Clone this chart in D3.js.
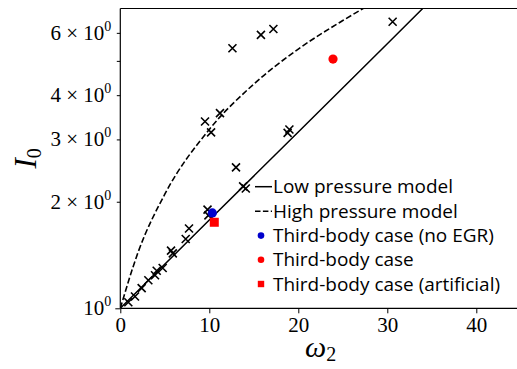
<!DOCTYPE html>
<html><head><meta charset="utf-8">
<script src="https://cdn.jsdelivr.net/npm/d3@7"></script>
<style>body{margin:0;background:#fff}svg{display:block}</style>
</head><body>
<svg id="c" width="517" height="369"></svg>
<script>
// Data
const crossW = [0.9,1.65,2.4,3.15,3.9,4.09,4.76,5.7,5.9,7.35,7.72,9.8,9.9,13.8,14.1,19.0,18.8,13.0,10.2,9.52,11.2,12.6,15.8,17.2,30.6];
const crossI = [1.04,1.08,1.14,1.20,1.24,1.277,1.30,1.455,1.43,1.57,1.68,1.90,1.83,2.21,2.18,3.20,3.13,2.50,3.14,3.37,3.56,5.43,5.92,6.15,6.45];
const noEgrW = [10.34], noEgrI = [1.86];
const tbW = [23.9], tbI = [5.06];
const artW = [10.56], artI = [1.75];
const lowW = [0,10,20,30,36], lowI = [1,1.775,3.15,5.59,7.9];
const highW = [0,2,5,10,15,20,25,28], highI = [1,1.44,2.1,3.2,4.3,5.4,6.5,7.2];
const xTicks = [0,10,20,30,40];
const yTicks = [1,2,3,4,5,6];
const yTickLabels = ["10","2 × 10","3 × 10","4 × 10","","6 × 10"];
const legendLabels = ["Low pressure model","High pressure model","Third-body case (no EGR)","Third-body case","Third-body case (artificial)"];

const svg = d3.select("#c");
const L=120.3, R=520.8, T=8.5, B=308.3;
const x = d3.scaleLinear().domain([0,45]).range([L,R]);
const y = d3.scaleLog().domain([1,7.03]).range([B,T]);
const serif = "'Liberation Serif','DejaVu Serif',serif";

svg.append("clipPath").attr("id","clip").append("rect").attr("x",L).attr("y",T).attr("width",R-L).attr("height",B-T);
const g = svg.append("g").attr("clip-path","url(#clip)");

const line = d3.line().x(d=>x(d[0])).y(d=>y(d[1]));
g.append("path").datum(lowW.map((w,i)=>[w,lowI[i]])).attr("d",line)
  .attr("fill","none").attr("stroke","#000").attr("stroke-width",1.5);
g.append("path").datum(highW.map((w,i)=>[w,highI[i]])).attr("d",line.curve(d3.curveMonotoneX))
  .attr("fill","none").attr("stroke","#000").attr("stroke-width",1.6).attr("stroke-dasharray","6,2.6");

const cs=4;
crossW.forEach((w,i)=>{
  const cx=x(w), cy=y(crossI[i]);
  g.append("path").attr("d",`M${cx-cs},${cy-cs}L${cx+cs},${cy+cs}M${cx-cs},${cy+cs}L${cx+cs},${cy-cs}`)
   .attr("stroke","#000").attr("stroke-width",1.6);
});
noEgrW.forEach((w,i)=>g.append("circle").attr("cx",x(w)).attr("cy",y(noEgrI[i])).attr("r",4.6).attr("fill","#0000cc"));
tbW.forEach((w,i)=>g.append("circle").attr("cx",x(w)).attr("cy",y(tbI[i])).attr("r",4.6).attr("fill","#ff0000"));
artW.forEach((w,i)=>g.append("rect").attr("x",x(w)-4.5).attr("y",y(artI[i])-4.5).attr("width",9).attr("height",9).attr("fill","#ff0000"));

// spines
svg.append("line").attr("x1",L).attr("x2",L).attr("y1",T).attr("y2",B).attr("stroke","#000").attr("stroke-width",1.2);
svg.append("line").attr("x1",L).attr("x2",R).attr("y1",B).attr("y2",B).attr("stroke","#000").attr("stroke-width",1.2);
svg.append("line").attr("x1",L).attr("x2",R).attr("y1",T).attr("y2",T).attr("stroke","#000").attr("stroke-width",1.2);

// x axis
const xa = svg.append("g").attr("transform",`translate(0,${B})`)
  .call(d3.axisBottom(x).tickValues(xTicks).tickSize(5).tickPadding(4).tickFormat(d3.format("d")));
xa.select(".domain").remove();
xa.selectAll("text").attr("font-family",serif).attr("font-size",21).attr("fill","#000");
xa.selectAll("line").attr("stroke-width",1);

// y axis
const ya = svg.append("g").attr("transform",`translate(${L},0)`)
  .call(d3.axisLeft(y).tickValues(yTicks).tickSize(4).tickPadding(4).tickFormat(()=>""));
ya.select(".domain").remove();
ya.selectAll(".tick line").attr("stroke-width",1).attr("x2",d=>d===1?-5:-3.5);
yTicks.forEach((v,i)=>{
  if(!yTickLabels[i]) return;
  const t = svg.append("text").attr("x",L-9).attr("y",y(v)+7).attr("text-anchor","end")
    .attr("font-family",serif).attr("font-size",21).attr("fill","#000");
  t.append("tspan").text(yTickLabels[i]);
  t.append("tspan").attr("font-size",14).attr("dy",-9).text("0");
});

// axis labels
const xl = svg.append("text").attr("x",(L+x(45))/2).attr("y",357).attr("text-anchor","middle")
  .attr("font-family",serif).attr("font-size",30).attr("font-style","italic");
xl.append("tspan").text("ω");
xl.append("tspan").attr("font-size",20).attr("font-style","normal").attr("dy",4).text("2");
const yl = svg.append("text").attr("transform",`translate(36,${(T+B)/2}) rotate(-90)`).attr("text-anchor","middle")
  .attr("font-family",serif).attr("font-size",31).attr("font-style","italic");
yl.append("tspan").text("I");
yl.append("tspan").attr("font-size",20).attr("font-style","normal").attr("dy",5).text("0");

// legend
const lg = svg.append("g");
const rowY = [186.7,211.2,235.6,259.8,284.0];
const sans = "'Open Sans','DejaVu Sans',sans-serif";
const tx = 273;
const targetW = [170,176,233,141,234];
legendLabels.forEach((lab,i)=>{
  lg.append("text").attr("x",tx).attr("y",rowY[i]+6.5).attr("font-family",sans).attr("font-size",19).attr("fill","#000").text(lab).attr("class","lt");
});
// fit legend font to overall widths seen in the reference
let sumW=0; lg.selectAll(".lt").each(function(){sumW+=this.getComputedTextLength();});
const fs = 19*d3.sum(targetW)/sumW;
lg.selectAll(".lt").attr("font-size",fs);
lg.append("line").attr("x1",255).attr("x2",272).attr("y1",rowY[0]).attr("y2",rowY[0]).attr("stroke","#000").attr("stroke-width",1.5);
lg.append("line").attr("x1",255).attr("x2",272).attr("y1",rowY[1]).attr("y2",rowY[1]).attr("stroke","#000").attr("stroke-width",1.5).attr("stroke-dasharray","5.5,2.4");
lg.append("circle").attr("cx",261).attr("cy",rowY[2]).attr("r",3.3).attr("fill","#0000cc");
lg.append("circle").attr("cx",261).attr("cy",rowY[3]).attr("r",3.3).attr("fill","#ff0000");
lg.append("rect").attr("x",261-3.2).attr("y",rowY[4]-3.2).attr("width",6.4).attr("height",6.4).attr("fill","#ff0000");
</script>
</body></html>
